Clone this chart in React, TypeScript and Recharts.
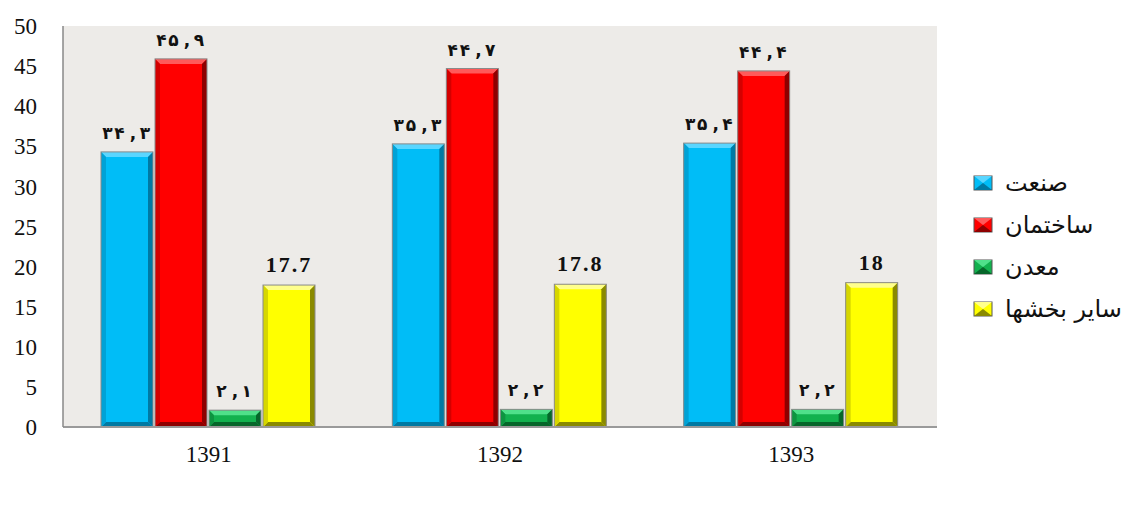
import React from 'react';
import { BarChart, Bar, XAxis, YAxis, CartesianGrid, LabelList } from 'recharts';

const years = ['1391', '1392', '1393'];
const industry = [34.3, 35.3, 35.4];
const construction = [45.9, 44.7, 44.4];
const mining = [2.1, 2.2, 2.2];
const others = [17.7, 17.8, 18];
const yTicks = [0, 5, 10, 15, 20, 25, 30, 35, 40, 45, 50];

const seriesNames = ['صنعت', 'ساختمان', 'معدن', 'سایر بخشها'];
const seriesKeys = ['industry', 'construction', 'mining', 'others'];

const palette: Record<string, { fill: string; light: string; dark: string; side: string }> = {
  industry: { fill: '#00BDF7', light: '#5AD6FF', dark: '#0079A3', side: '#00A2D6' },
  construction: { fill: '#FF0000', light: '#FF5A5A', dark: '#8E0000', side: '#D40000' },
  mining: { fill: '#12B14E', light: '#4FE08A', dark: '#06662A', side: '#0E9440' },
  others: { fill: '#FFFF00', light: '#FFFF8C', dark: '#8A8A00', side: '#D6D600' },
};

const data = years.map((y, i) => ({
  year: y,
  industry: industry[i],
  construction: construction[i],
  mining: mining[i],
  others: others[i],
}));

const faDigits = '۰۱۲۳۴۵۶۷۸۹';
const toFa = (v: any) =>
  String(v)
    .replace(/[0-9]/g, (d) => faDigits[Number(d)] + '\u200A')
    .replace('.', '\u2009,\u2009');

const makeShape = (key: string) => (props: any) => {
  const { x, y, width: w, height: h } = props;
  if (!w || !h) return null;
  const c = palette[key];
  const b = Math.min(5, h / 2, w / 2);
  return (
    <g>
      <rect x={x} y={y} width={w} height={h} fill={c.fill} />
      <polygon points={`${x},${y} ${x + w},${y} ${x + w - b},${y + b} ${x + b},${y + b}`} fill={c.light} />
      <polygon points={`${x + w},${y} ${x + w},${y + h} ${x + w - b},${y + h - b} ${x + w - b},${y + b}`} fill={c.dark} />
      <polygon points={`${x},${y + h} ${x + w},${y + h} ${x + w - b},${y + h - b} ${x + b},${y + h - b}`} fill={c.dark} />
      <polygon points={`${x},${y} ${x + b},${y + b} ${x + b},${y + h - b} ${x},${y + h}`} fill={c.side} />
      <rect x={x} y={y} width={w} height={h} fill="none" stroke="#8a8a8a" strokeWidth={1} />
    </g>
  );
};

const faLabelStyle = { fontFamily: 'DejaVu Sans', fontSize: 17, fontWeight: 700, fill: '#111' };

export default function App() {
  return (
    <div style={{ position: 'absolute', left: 0, top: 0, width: 1143, height: 509, background: '#fff' }}>
      <BarChart
        width={1143}
        height={509}
        data={data}
        margin={{ top: 26, right: 206, bottom: 52, left: 0 }}
        barGap={2}
        barCategoryGap={38}
      >
        <CartesianGrid horizontal={false} vertical={false} fill="#EDEBE8" />
        <XAxis
          dataKey="year"
          height={30}
          tickLine={false}
          tickSize={0}
          tickMargin={19}
          axisLine={{ stroke: '#9a9a9a', strokeWidth: 2 }}
          tick={{ fontFamily: 'Liberation Serif', fontSize: 23, fill: '#111' }}
        />
        <YAxis
          width={63}
          domain={[0, 50]}
          ticks={yTicks}
          interval={0}
          tickLine={false}
          tickSize={0}
          tickMargin={26}
          axisLine={{ stroke: '#888', strokeWidth: 1.5 }}
          tick={{ fontFamily: 'Liberation Serif', fontSize: 23, fill: '#111' }}
        />
        {seriesKeys.map((k) => (
          <Bar key={k} dataKey={k} isAnimationActive={false} shape={makeShape(k)} fill={palette[k].fill}>
            {k === 'others' ? (
              <LabelList
                dataKey={k}
                position="top"
                offset={13}
                style={{ fontFamily: 'Liberation Serif', fontSize: 22, fontWeight: 700, fill: '#111', letterSpacing: 2 }}
              />
            ) : (
              <LabelList dataKey={k} position="top" offset={13} formatter={toFa} style={faLabelStyle} />
            )}
          </Bar>
        ))}
      </BarChart>
      <div style={{ position: 'absolute', left: 973, top: 162, width: 170 }}>
        {seriesKeys.map((k, i) => (
          <div key={k} style={{ display: 'flex', alignItems: 'center', height: 42 }}>
            <svg width={20} height={16} style={{ marginRight: 12, flex: 'none' }}>
              <rect x={1} y={1} width={18} height={14} fill={palette[k].fill} stroke="#555" strokeWidth={1} />
              <polygon points="1,1 19,1 10,8" fill={palette[k].light} />
              <polygon points="1,15 19,15 10,8" fill={palette[k].dark} />
            </svg>
            <span style={{ fontFamily: 'DejaVu Sans', fontSize: 24, color: '#111', whiteSpace: 'nowrap', direction: 'rtl' }}>
              {seriesNames[i]}
            </span>
          </div>
        ))}
      </div>
    </div>
  );
}
